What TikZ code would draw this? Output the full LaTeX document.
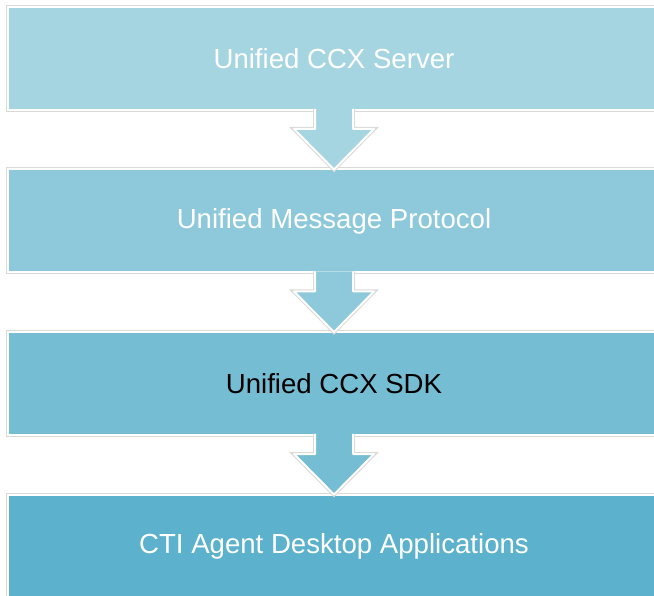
\documentclass[tikz,border=0pt]{standalone}
\usepackage{fontspec}
\setmainfont{Liberation Sans}
\usetikzlibrary{positioning,calc}

\definecolor{serverblue}{RGB}{166,213,226}
\definecolor{protoblue}{RGB}{141,201,218}
\definecolor{sdkblue}{RGB}{116,189,211}
\definecolor{deskblue}{RGB}{92,177,204}

\tikzset{
  block/.style={rectangle, minimum width=652pt, minimum height=103pt,
    inner sep=0pt, outer sep=0pt, draw=white, line width=2pt,
    preaction={draw=gray!30, line width=4pt},
    font=\fontsize{27.6}{33}\selectfont, text=white},
  flowarrow/.style={draw=white, line width=2pt, line join=round,
    preaction={draw=gray!30, line width=4pt}}
}

\begin{document}
\begin{tikzpicture}[x=1pt, y=-1pt, node distance=59.5pt]
    \useasboundingbox (0,0) rectangle (654,596);

    \node (server) [block, fill=serverblue] at (334,58.5) {Unified CCX Server};
    \node (protocol) [block, fill=protoblue, below=of server] {Unified Message Protocol};
    \node (sdk) [block, fill=sdkblue, text=black, below=of protocol] {Unified CCX SDK};
    \node (desktop) [block, fill=deskblue, below=of sdk] {CTI Agent Desktop Applications};

    % block arrows between the layers
    \foreach \a/\b/\c in {server/protocol/serverblue, protocol/sdk/protoblue, sdk/desktop/sdkblue}
        \filldraw [flowarrow, fill=\c]
            ($(\a.south)+(-19,-1.2)$) -- ($(\a.south)+(-19,19)$) -- ($(\a.south)+(-40,19)$)
            -- (\b.north)
            -- ($(\a.south)+(40,19)$) -- ($(\a.south)+(19,19)$) -- ($(\a.south)+(19,-1.2)$);
\end{tikzpicture}
\end{document}
